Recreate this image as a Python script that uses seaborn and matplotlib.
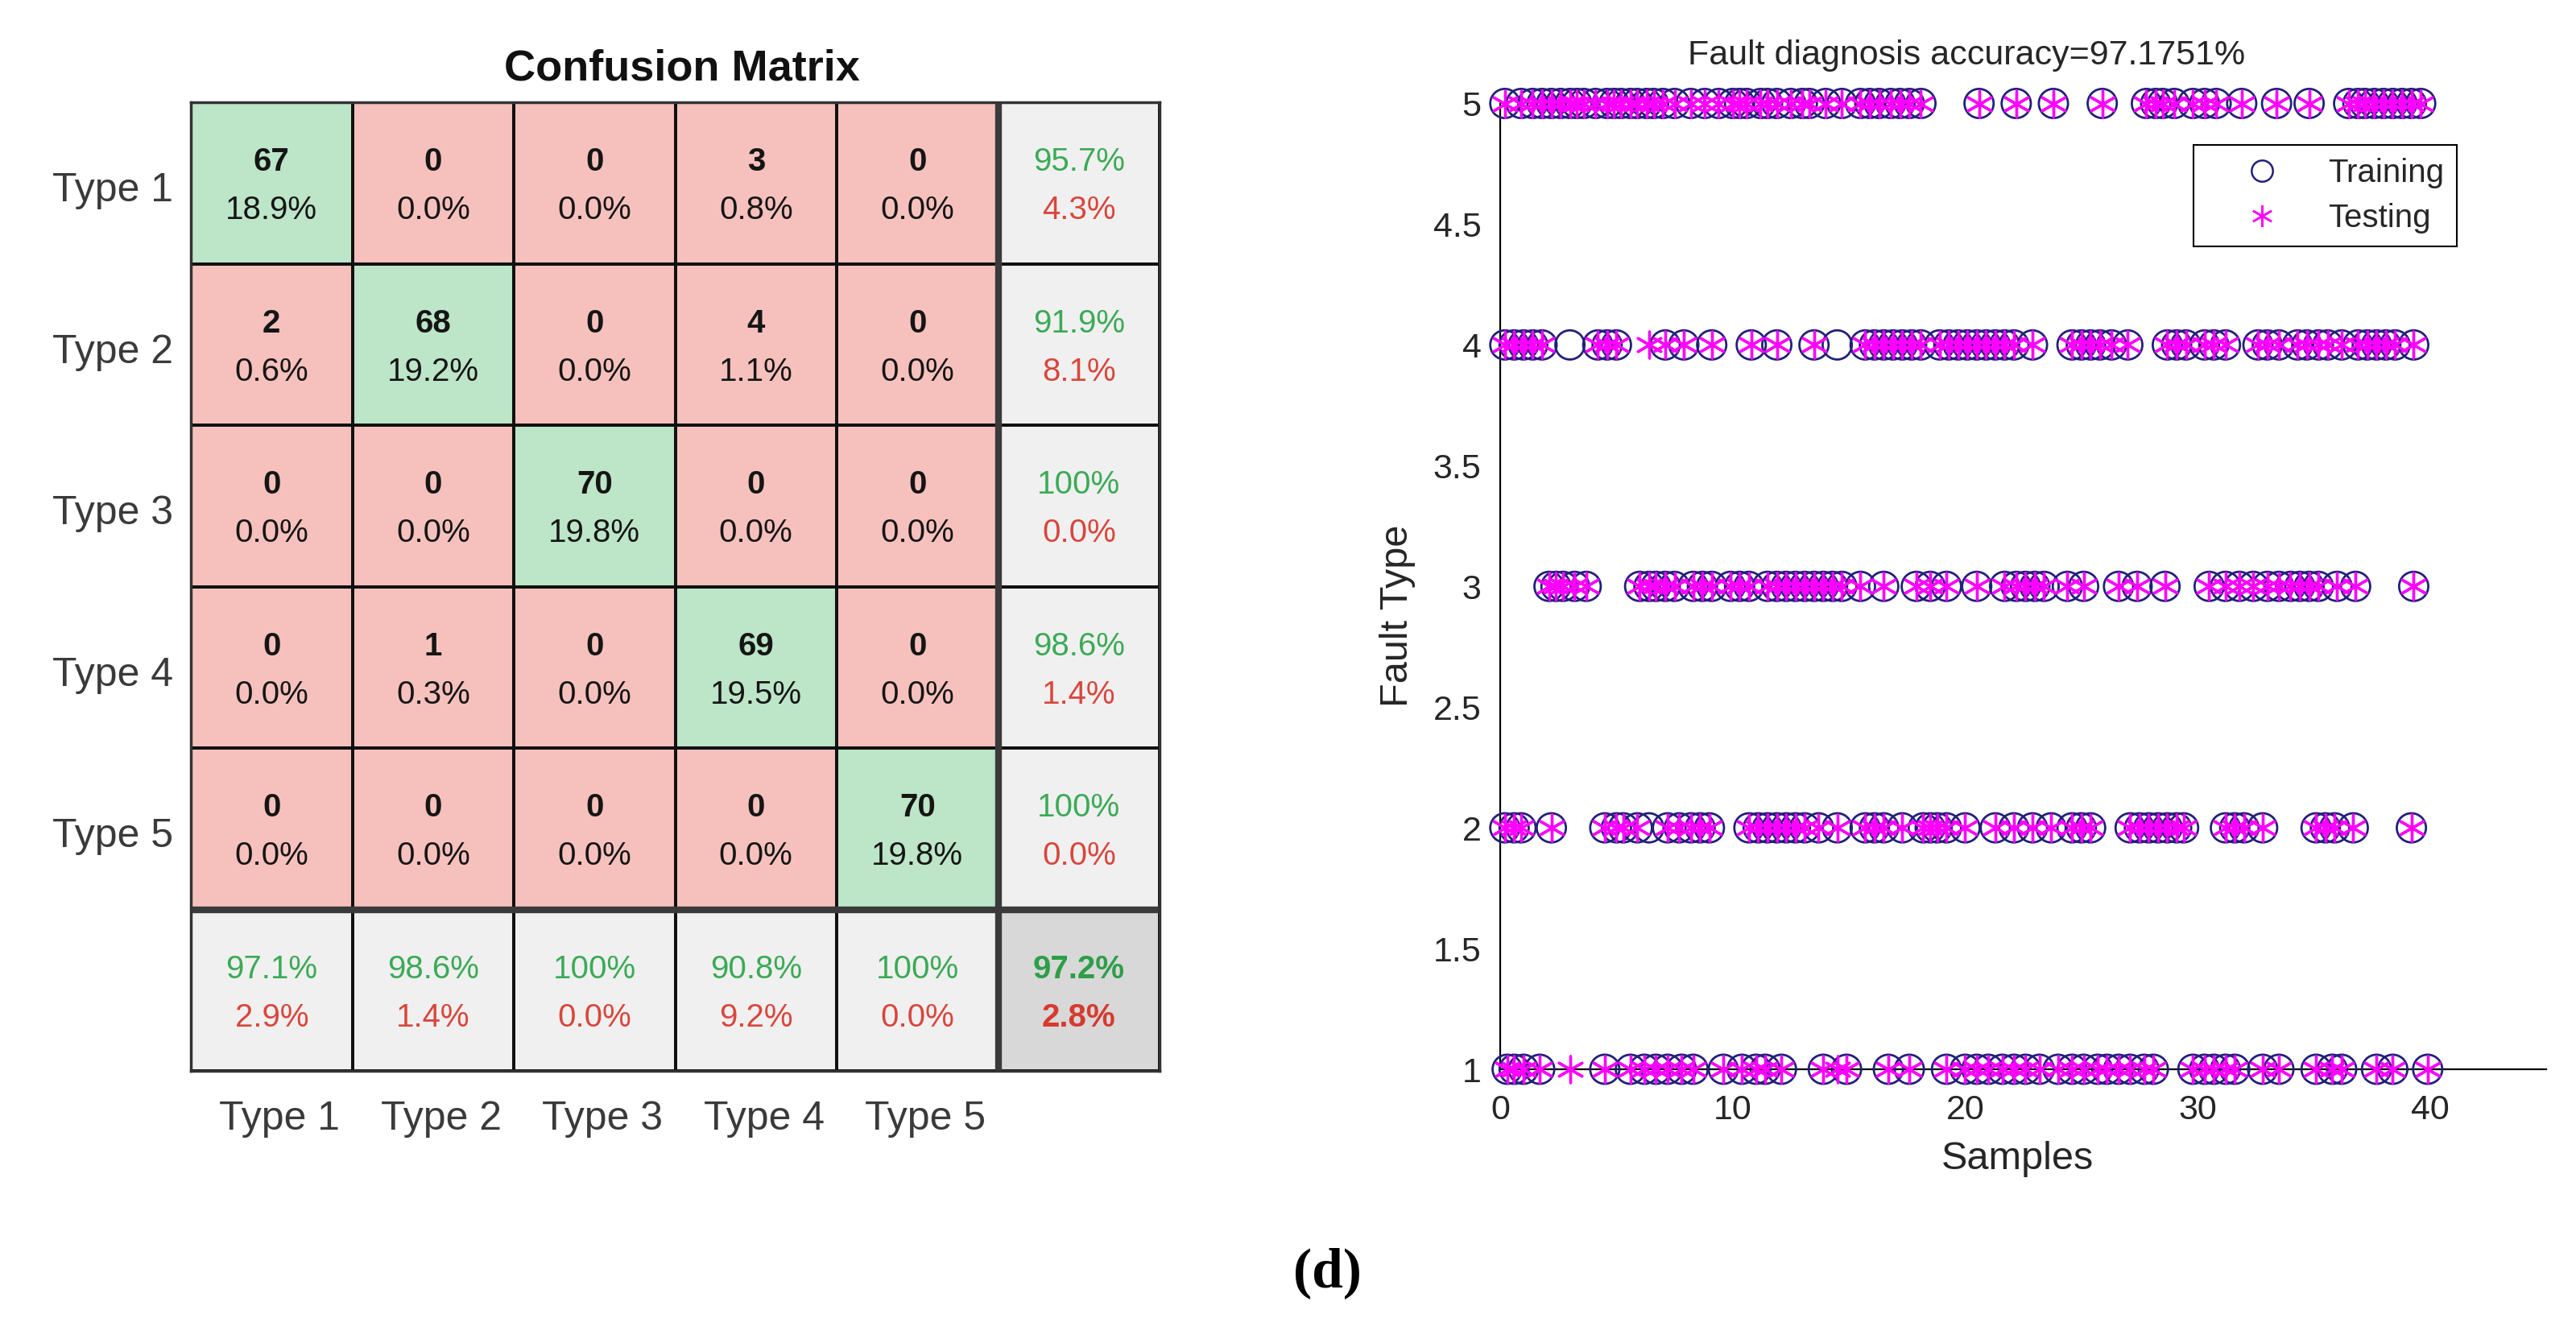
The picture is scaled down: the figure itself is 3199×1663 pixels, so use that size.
import numpy as np
import pandas as pd
import matplotlib
matplotlib.use("Agg")
import matplotlib.pyplot as plt
from matplotlib.colors import ListedColormap
from matplotlib.lines import Line2D
import seaborn as sns

sns.set_style("white")
plt.rcParams['font.family'] = ['Liberation Sans', 'DejaVu Sans']

# ---------------- data ----------------
class_names = ["Type 1", "Type 2", "Type 3", "Type 4", "Type 5"]
counts = np.array([
    [67, 0, 0, 3, 0],
    [2, 68, 0, 4, 0],
    [0, 0, 70, 0, 0],
    [0, 1, 0, 69, 0],
    [0, 0, 0, 0, 70],
])
row_correct = ["95.7%", "91.9%", "100%", "98.6%", "100%"]
row_wrong = ["4.3%", "8.1%", "0.0%", "1.4%", "0.0%"]
col_correct = ["97.1%", "98.6%", "100%", "90.8%", "100%"]
col_wrong = ["2.9%", "1.4%", "0.0%", "9.2%", "0.0%"]
total_correct = "97.2%"
total_wrong = "2.8%"

x_type1 = [0.3, 0.6, 1.0, 1.7, 4.5, 5.6, 6.2, 6.7, 7.2, 7.8, 8.3, 9.6, 10.4, 11.0, 11.4, 12.1,
           13.9, 14.9, 16.7, 17.6, 19.2, 20.0, 20.5, 21.0, 21.6, 22.1, 22.6, 23.2, 24.0,
           24.6, 25.1, 25.7, 26.1, 26.6, 27.1, 27.7, 28.1, 29.8, 30.3, 30.7, 31.2, 31.6,
           32.8, 33.5, 35.1, 35.8, 36.2, 37.7, 38.4, 39.9]
x_type2 = [0.2, 0.6, 0.9, 2.2, 4.5, 5.0, 5.3, 5.9, 7.2, 7.7, 8.2, 8.6, 9.0, 10.7, 11.1,
           11.5, 11.9, 12.3, 12.7, 13.1, 13.7, 14.5, 15.7, 16.1, 16.5, 17.3, 18.2, 18.5,
           18.8, 19.2, 20.0, 21.3, 22.1, 22.9, 23.7, 24.6, 25.0, 25.4, 27.1, 27.5, 27.9,
           28.3, 28.7, 29.1, 29.4, 31.2, 31.6, 32.0, 32.8, 35.1, 35.5, 35.9, 36.7, 39.2]
x_type3 = [2.1, 2.4, 2.7, 3.2, 3.7, 6.0, 6.4, 6.7, 7.1, 7.5, 8.3, 8.7, 9.1, 9.9, 10.3,
           10.7, 11.5, 11.9, 12.3, 12.7, 13.1, 13.5, 13.9, 14.3, 14.7, 15.5, 16.5, 17.9,
           18.5, 19.2, 20.5, 21.7, 22.2, 22.6, 23.0, 23.4, 24.4, 25.1, 26.6, 27.4, 28.6,
           30.5, 31.2, 31.8, 32.4, 33.0, 33.5, 34.0, 34.4, 34.8, 35.2, 36.0, 36.8, 39.3]
x_type4 = [0.2, 0.6, 1.0, 1.4, 1.8, 4.2, 4.6, 5.0, 7.1, 7.9, 9.1, 10.8, 11.9, 13.5, 15.7,
           16.1, 16.5, 16.9, 17.3, 17.7, 18.1, 18.9, 19.3, 19.7, 20.1, 20.5, 20.9, 21.3,
           21.7, 22.1, 22.9, 24.6, 25.0, 25.4, 25.8, 26.3, 27.0, 28.7, 29.1, 29.5, 30.3,
           30.7, 31.2, 32.6, 33.0, 33.5, 34.3, 34.7, 35.2, 35.6, 36.2, 36.9, 37.3, 37.7,
           38.1, 38.5, 39.3]
x_type5 = [0.2, 0.9, 1.4, 1.8, 2.2, 2.6, 3.0, 3.3, 3.6, 4.1, 4.6, 4.9, 5.2, 5.6, 5.9,
           6.3, 6.6, 7.0, 7.5, 8.2, 8.8, 9.4, 10.0, 10.3, 10.6, 11.2, 11.5, 11.9, 12.5,
           13.0, 13.3, 14.0, 14.7, 15.5, 15.9, 16.3, 16.8, 17.2, 17.6, 18.1, 20.6, 22.2,
           23.8, 25.9, 27.8, 28.2, 28.5, 29.0, 29.8, 30.3, 30.8, 31.9, 33.4, 34.8, 36.5,
           36.9, 37.2, 37.6, 38.0, 38.4, 38.8, 39.2, 39.6]
mis_x = [3.0, 14.5, 6.4]
mis_true = [4, 4, 2]
mis_pred = [1, 1, 4]

accuracy_title = "Fault diagnosis accuracy=97.1751%"
yticks = [1, 1.5, 2, 2.5, 3, 3.5, 4, 4.5, 5]
ytick_labels = ["1", "1.5", "2", "2.5", "3", "3.5", "4", "4.5", "5"]
xticks = [0, 10, 20, 30, 40]
xtick_labels = ["0", "10", "20", "30", "40"]

# ---------------- figure ----------------
W, H = 3199, 1663
fig = plt.figure(figsize=(W / 100, H / 100), dpi=100)

def fx(px):
    return px / W

def fy(py):
    return 1 - py / H

# ---------- confusion matrix ----------
GREEN = "#BDE5C8"
RED = "#F6C1BD"
LGREY = "#F0F0F0"
DGREY = "#D8D8D8"
n = len(class_names)
codes = np.full((n + 1, n + 1), 1)
for i in range(n):
    codes[i, i] = 0
codes[n, :] = 2
codes[:, n] = 2
codes[n, n] = 3

L, R, T, B = 237, 1440, 127, 1330
ax_cm = fig.add_axes([fx(L), fy(B), fx(R - L), (B - T) / H])
sns.heatmap(codes, ax=ax_cm, cmap=ListedColormap([GREEN, RED, LGREY, DGREY]),
            vmin=-0.5, vmax=3.5, cbar=False, linewidths=1.6, linecolor="#111111",
            xticklabels=False, yticklabels=False, annot=False)
ax_cm.axhline(n, color="#3a3a3a", lw=6)
ax_cm.axvline(n, color="#3a3a3a", lw=6)
for s in ax_cm.spines.values():
    s.set_visible(True)
    s.set_color("#333333")
    s.set_linewidth(2.5)

total = counts.sum()
txt_dark = "#151515"
pct_green = "#3BAA55"
pct_red = "#D9463C"
cell_fs = 29
for i in range(n):
    for j in range(n):
        ax_cm.text(j + 0.5, i + 0.37, f"{counts[i, j]}", ha="center", va="center",
                   fontsize=cell_fs, fontweight="bold", color=txt_dark)
        ax_cm.text(j + 0.5, i + 0.67, f"{100 * counts[i, j] / total:.1f}%", ha="center",
                   va="center", fontsize=cell_fs, color=txt_dark)
    ax_cm.text(n + 0.5, i + 0.37, row_correct[i], ha="center", va="center",
               fontsize=cell_fs, color=pct_green)
    ax_cm.text(n + 0.5, i + 0.67, row_wrong[i], ha="center", va="center",
               fontsize=cell_fs, color=pct_red)
    ax_cm.text(i + 0.5, n + 0.37, col_correct[i], ha="center", va="center",
               fontsize=cell_fs, color=pct_green)
    ax_cm.text(i + 0.5, n + 0.67, col_wrong[i], ha="center", va="center",
               fontsize=cell_fs, color=pct_red)
ax_cm.text(n + 0.5, n + 0.37, total_correct, ha="center", va="center",
           fontsize=cell_fs, fontweight="bold", color="#2E9E48")
ax_cm.text(n + 0.5, n + 0.67, total_wrong, ha="center", va="center",
           fontsize=cell_fs, fontweight="bold", color="#D63A2F")

lab_col = "#3a3a3a"
for i, name in enumerate(class_names):
    ax_cm.text(-0.11, i + 0.55, name, ha="right", va="center", fontsize=36, color=lab_col)
    ax_cm.text(i + 0.55, n + 1.3, name, ha="center", va="center", fontsize=36, color=lab_col)
ax_cm.set_xlim(0, n + 1)
ax_cm.set_ylim(n + 1, 0)
fig.text(fx(847), fy(86), "Confusion Matrix", ha="center", va="center",
         fontsize=39, fontweight="bold", color="#111111")

# ---------- scatter ----------
rows = []
for k, xs in enumerate([x_type1, x_type2, x_type3, x_type4, x_type5], start=1):
    for x in xs:
        rows.append((x, k, k))
for x, t, p in zip(mis_x, mis_true, mis_pred):
    rows.append((x, t, p))
df = pd.DataFrame(rows, columns=["sample", "true", "pred"])

SL, SR, ST, SB = 1863, 3162, 128.5, 1328
ax = fig.add_axes([fx(SL), fy(SB), fx(SR - SL), (SB - ST) / H])
NAVY = "#22207a"
MAG = "#FF00FF"
sns.scatterplot(data=df, x="sample", y="true", ax=ax, marker="o", s=680,
                color=NAVY, edgecolor=NAVY, linewidth=2.0, clip_on=False, zorder=3,
                legend=False)
ax.collections[-1].set_facecolor("none")
sns.scatterplot(data=df, x="sample", y="pred", ax=ax, marker=(6, 2, 0), s=560,
                color=MAG, linewidth=2.4, clip_on=False, zorder=4, legend=False)

ax.set_xlim(0, 45)
ax.set_ylim(1, 5)
ax.set_xticks(xticks + [45])
ax.set_xticklabels(xtick_labels + [""])
ax.set_yticks(yticks)
ax.set_yticklabels(ytick_labels)
ax.tick_params(axis="both", direction="in", length=9, width=1.5, colors="black",
               labelsize=31, labelcolor="#262626")
ax.tick_params(axis="y", pad=17)
ax.tick_params(axis="x", pad=22)
sns.despine(ax=ax, top=True, right=True)
for s in ["left", "bottom"]:
    ax.spines[s].set_color("black")
    ax.spines[s].set_linewidth(1.6)
ax.set_xlabel("")
ax.set_ylabel("")
ax.grid(False)

fig.text(fx(2442), fy(69), accuracy_title, ha="center", va="center",
         fontsize=31, color="#262626")
fig.text(fx(1736), fy(765), "Fault Type", rotation=90, ha="center", va="center",
         fontsize=35, color="#262626")
fig.text(fx(2505), fy(1440), "Samples", ha="center", va="center",
         fontsize=35, color="#262626")

handles = [
    Line2D([], [], ls="", marker="o", mfc="none", mec=NAVY, ms=19, mew=1.8),
    Line2D([], [], ls="", marker=(6, 2, 0), color=MAG, mec=MAG, ms=19, mew=1.8),
]
leg = ax.legend(handles, ["Training", "Testing"], loc="upper left",
                bbox_to_anchor=(fx(2724), fy(180)), bbox_transform=fig.transFigure,
                fontsize=29, frameon=True, fancybox=False, framealpha=1,
                edgecolor="black", borderpad=0.4, handlelength=3.4,
                handletextpad=0.35, labelspacing=0.45, borderaxespad=0)
leg.get_frame().set_linewidth(1.5)
for t in leg.get_texts():
    t.set_color("#262626")

fig.text(fx(1648), fy(1581), "(d)", ha="center", va="center", fontsize=50,
         fontweight="bold", family=["Liberation Serif", "DejaVu Serif"], color="black")

fig.savefig("out.png", dpi=100, facecolor="white")
